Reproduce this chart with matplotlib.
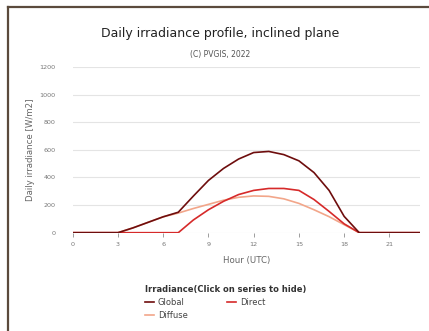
import matplotlib
matplotlib.use("Agg")
import matplotlib.pyplot as plt
from matplotlib.lines import Line2D
import numpy as np

hours = [0, 1, 2, 3, 4, 5, 6, 7, 8, 9, 10, 11, 12, 13, 14, 15, 16, 17, 18, 19, 20, 21, 22, 23]
global_irr = [0, 0, 0, 0, 35, 75, 115, 148, 265, 378, 465, 533, 580, 588, 565, 520, 435, 306, 118, 0, 0, 0, 0, 0]
direct_irr = [0, 0, 0, 0, 0, 0, 0, 0, 92, 166, 227, 276, 306, 320, 320, 306, 240, 154, 64, 0, 0, 0, 0, 0]
diffuse_irr = [0, 0, 0, 0, 35, 75, 115, 142, 175, 205, 235, 256, 266, 263, 245, 212, 166, 116, 58, 0, 0, 0, 0, 0]

x_ticks = [0, 3, 6, 9, 12, 15, 18, 21]
y_ticks = [0, 200, 400, 600, 800, 1000, 1200]

c_global = "#6e0d0d"
c_direct = "#d62a2a"
c_diffuse = "#f2a68a"

fig = plt.figure(figsize=(4.29, 3.31), dpi=100)
ax = fig.add_axes([0.1695, 0.297, 0.8085, 0.501])

l_glob, = ax.plot(hours, global_irr, color=c_global, lw=1.2, label="Global", zorder=4)
l_dir, = ax.plot(hours, direct_irr, color=c_direct, lw=1.2, label="Direct", zorder=3)
l_dif, = ax.plot(hours, diffuse_irr, color=c_diffuse, lw=1.2, label="Diffuse", zorder=2)

ax.set_xlim(0, 23)
ax.set_ylim(0, 1200)
ax.set_xticks(x_ticks)
ax.set_yticks(y_ticks)
ax.tick_params(axis="both", labelsize=4.6, colors="#777777", length=3, width=0.5)
ax.tick_params(axis="y", length=0, pad=12.5)
ax.tick_params(axis="x", pad=4)
ax.grid(axis="y", color="#e4e4e4", lw=0.8)
ax.set_axisbelow(True)
for s in ax.spines.values():
    s.set_visible(False)

ax.set_xlabel("Hour (UTC)", fontsize=6.2, color="#666666", labelpad=6)
ax.set_ylabel("Daily irradiance [W/m2]", fontsize=6.2, color="#666666", labelpad=3)

fig.text(0.513, 0.90, "Daily irradiance profile, inclined plane", ha="center", va="center", fontsize=9, color="#222222")
fig.text(0.513, 0.834, "(C) PVGIS, 2022", ha="center", va="center", fontsize=5.5, color="#555555")

leg = fig.legend([l_glob, l_dif, l_dir], ["Global", "Diffuse", "Direct"], ncol=2,
                 loc="upper center", bbox_to_anchor=(0.525, 0.155), frameon=False,
                 fontsize=6, title="Irradiance(Click on series to hide)",
                 title_fontproperties={"weight": "bold", "size": 6},
                 handlelength=1.1, handletextpad=0.5, columnspacing=4.7,
                 labelspacing=0.5, borderpad=0.1)
leg._legend_box.align = "left"
for t in leg.get_texts():
    t.set_color("#444444")
leg.get_title().set_color("#333333")

# outer frame (top and left edges visible)
fig.add_artist(Line2D([8 / 429, 1], [1 - 7 / 331, 1 - 7 / 331], transform=fig.transFigure, color="#5b4a3c", lw=1.6))
fig.add_artist(Line2D([8 / 429, 8 / 429], [0, 1 - 7 / 331], transform=fig.transFigure, color="#5b4a3c", lw=1.6))

fig.savefig("out.png", dpi=100)
